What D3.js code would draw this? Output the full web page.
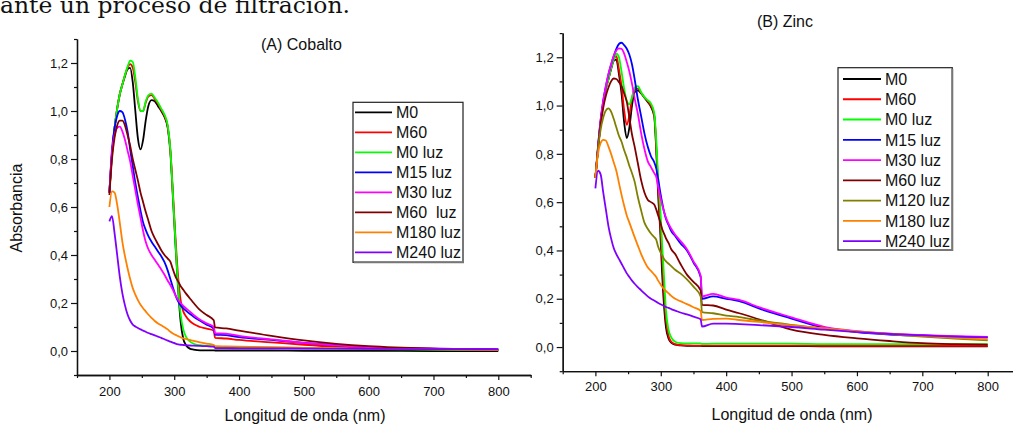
<!DOCTYPE html>
<html>
<head>
<meta charset="utf-8">
<script src="https://cdn.jsdelivr.net/npm/d3@7"></script>
<style>
  html, body { margin: 0; padding: 0; background: #fff; }
  svg { display: block; font-family: "Liberation Sans", Arial, sans-serif; }
  .legend text { white-space: pre; }
</style>
</head>
<body>
<svg id="chart" width="1013" height="426"></svg>
<script>
// ---- Panel A: cobalt samples (absorbance vs wavelength, nm) ----
const wlA = [200,204,208,212,216,220,224,228,232,236,240,244,248,252,256,260,265,270,275,280,285,290,294,298,302,306,310,314,318,324,330,340,350,361,363,380,400,450,500,550,600,700,800];

const coM0     = [0.66,0.82,0.93,1.01,1.07,1.11,1.145,1.175,1.18,1.12,1.0,0.885,0.84,0.88,0.96,1.02,1.045,1.04,1.02,1.0,0.975,0.93,0.83,0.64,0.44,0.26,0.12,0.05,0.025,0.01,0.006,0.003,0.003,0.003,0.002,0.002,0.002,0.002,0.001,0.001,0.001,0.0,0.0];
const coM60    = [0.66,0.82,0.93,1.01,1.07,1.11,1.15,1.18,1.195,1.18,1.12,1.04,1.0,1.0,1.035,1.06,1.066,1.05,1.03,1.005,0.98,0.935,0.84,0.66,0.47,0.31,0.21,0.165,0.145,0.125,0.112,0.1,0.093,0.085,0.055,0.052,0.046,0.036,0.026,0.018,0.013,0.008,0.005];
const coM0luz  = [0.66,0.82,0.93,1.01,1.07,1.11,1.15,1.185,1.21,1.205,1.14,1.05,1.0,1.0,1.04,1.065,1.072,1.055,1.035,1.01,0.985,0.94,0.84,0.65,0.45,0.27,0.15,0.09,0.06,0.04,0.03,0.024,0.022,0.02,0.016,0.016,0.015,0.014,0.012,0.01,0.008,0.006,0.004];
const coM15luz = [0.66,0.84,0.93,0.98,1.0,0.995,0.965,0.915,0.84,0.77,0.70,0.64,0.585,0.535,0.505,0.48,0.455,0.435,0.415,0.395,0.37,0.335,0.3,0.265,0.232,0.207,0.19,0.178,0.168,0.155,0.143,0.126,0.11,0.093,0.068,0.066,0.058,0.046,0.034,0.024,0.016,0.01,0.006];
const coM30luz = [0.66,0.83,0.9,0.93,0.935,0.915,0.88,0.835,0.79,0.73,0.67,0.61,0.555,0.5,0.455,0.425,0.4,0.38,0.36,0.34,0.318,0.293,0.275,0.255,0.232,0.214,0.2,0.188,0.178,0.165,0.15,0.13,0.115,0.1,0.074,0.072,0.063,0.048,0.034,0.024,0.016,0.01,0.006];
const coM60luz = [0.65,0.8,0.89,0.94,0.96,0.96,0.94,0.9,0.855,0.8,0.755,0.71,0.66,0.62,0.58,0.545,0.5,0.47,0.445,0.42,0.4,0.385,0.372,0.34,0.31,0.29,0.27,0.255,0.24,0.22,0.2,0.17,0.15,0.128,0.098,0.094,0.085,0.063,0.044,0.03,0.02,0.01,0.006];
const coM180luz= [0.60,0.665,0.66,0.61,0.535,0.455,0.395,0.345,0.3,0.262,0.235,0.212,0.193,0.178,0.165,0.152,0.138,0.125,0.115,0.107,0.099,0.09,0.08,0.073,0.067,0.062,0.057,0.053,0.05,0.046,0.042,0.036,0.031,0.025,0.02,0.019,0.018,0.016,0.013,0.011,0.009,0.007,0.005];
const coM240luz= [0.54,0.562,0.49,0.4,0.31,0.24,0.19,0.152,0.127,0.11,0.102,0.096,0.09,0.085,0.08,0.075,0.07,0.065,0.06,0.055,0.049,0.043,0.039,0.035,0.031,0.028,0.026,0.025,0.024,0.023,0.022,0.021,0.02,0.018,0.012,0.012,0.011,0.011,0.01,0.01,0.009,0.008,0.008];

const namesA  = ["M0", "M60", "M0 luz", "M15 luz", "M30 luz", "M60  luz", "M180 luz", "M240 luz"];
const colorsA = ["#000000", "#ff0000", "#00ff00", "#0000ff", "#ff00ff", "#800000", "#ff8000", "#8000ff"];
const valuesA = [coM0, coM60, coM0luz, coM15luz, coM30luz, coM60luz, coM180luz, coM240luz];

// ---- Panel B: zinc samples ----
const wlB = [200,204,208,212,216,220,224,228,232,236,240,244,248,252,256,260,265,270,275,280,285,290,293,296,299,302,305,308,312,316,322,330,340,350,361,363,380,400,420,450,500,550,600,650,700,750,800];

const znM0     = [0.70,0.82,0.93,1.01,1.07,1.11,1.15,1.185,1.19,1.13,1.05,0.93,0.865,0.91,1.0,1.055,1.063,1.05,1.033,1.015,0.995,0.955,0.82,0.63,0.49,0.31,0.17,0.08,0.035,0.018,0.01,0.007,0.005,0.005,0.005,0.004,0.004,0.004,0.004,0.004,0.004,0.003,0.003,0.003,0.003,0.003,0.003];
const znM60    = [0.70,0.82,0.93,1.01,1.07,1.11,1.155,1.19,1.205,1.15,1.08,0.98,0.92,0.96,1.03,1.065,1.07,1.052,1.034,1.018,1.0,0.96,0.84,0.66,0.52,0.37,0.22,0.11,0.045,0.022,0.012,0.008,0.007,0.006,0.006,0.006,0.006,0.006,0.006,0.006,0.006,0.005,0.005,0.005,0.005,0.005,0.005];
const znM0luz  = [0.70,0.82,0.93,1.01,1.07,1.11,1.155,1.19,1.215,1.2,1.14,1.07,1.02,1.005,1.035,1.075,1.08,1.055,1.035,1.022,1.008,0.97,0.86,0.70,0.59,0.43,0.29,0.15,0.07,0.04,0.022,0.016,0.015,0.015,0.015,0.013,0.014,0.014,0.014,0.014,0.014,0.012,0.012,0.012,0.012,0.012,0.012];
const znM15luz = [0.70,0.83,0.94,1.02,1.08,1.13,1.17,1.205,1.235,1.255,1.26,1.25,1.235,1.21,1.17,1.11,1.025,0.955,0.885,0.83,0.79,0.765,0.74,0.695,0.645,0.6,0.56,0.53,0.505,0.48,0.46,0.43,0.4,0.35,0.29,0.2,0.21,0.2,0.19,0.16,0.118,0.08,0.062,0.052,0.047,0.043,0.04];
const znM30luz = [0.70,0.83,0.94,1.02,1.08,1.13,1.17,1.205,1.228,1.237,1.235,1.215,1.18,1.14,1.09,1.03,0.965,0.885,0.82,0.77,0.745,0.72,0.705,0.665,0.625,0.59,0.56,0.535,0.51,0.49,0.465,0.44,0.405,0.355,0.295,0.21,0.22,0.205,0.195,0.165,0.123,0.084,0.066,0.055,0.05,0.045,0.042];
const znM60luz = [0.70,0.82,0.92,0.99,1.04,1.075,1.1,1.112,1.11,1.097,1.08,1.05,1.015,0.95,0.88,0.83,0.76,0.69,0.64,0.61,0.6,0.59,0.57,0.545,0.52,0.49,0.47,0.45,0.43,0.405,0.385,0.345,0.3,0.27,0.235,0.175,0.172,0.155,0.14,0.115,0.072,0.05,0.036,0.025,0.016,0.012,0.01];
const znM120luz= [0.70,0.82,0.9,0.95,0.98,0.988,0.975,0.945,0.91,0.875,0.85,0.815,0.785,0.75,0.72,0.685,0.62,0.565,0.515,0.49,0.47,0.455,0.445,0.415,0.395,0.38,0.365,0.355,0.345,0.335,0.32,0.305,0.28,0.25,0.21,0.145,0.14,0.13,0.124,0.11,0.092,0.077,0.064,0.053,0.043,0.035,0.028];
const znM180luz= [0.70,0.8,0.845,0.858,0.855,0.83,0.8,0.765,0.73,0.68,0.63,0.585,0.545,0.515,0.485,0.455,0.42,0.385,0.355,0.33,0.315,0.3,0.29,0.275,0.262,0.25,0.24,0.232,0.222,0.212,0.2,0.19,0.178,0.165,0.15,0.112,0.117,0.118,0.112,0.104,0.09,0.077,0.065,0.055,0.046,0.038,0.032];
const znM240luz= [0.657,0.73,0.715,0.64,0.57,0.5,0.45,0.41,0.385,0.365,0.345,0.325,0.305,0.29,0.275,0.262,0.248,0.235,0.222,0.21,0.2,0.193,0.188,0.182,0.178,0.174,0.17,0.166,0.162,0.157,0.151,0.143,0.135,0.126,0.115,0.085,0.097,0.097,0.095,0.091,0.083,0.072,0.062,0.054,0.048,0.043,0.04];

const namesB  = ["M0", "M60", "M0 luz", "M15 luz", "M30 luz", "M60 luz", "M120 luz", "M180 luz", "M240 luz"];
const colorsB = ["#000000", "#ff0000", "#00ff00", "#0000ff", "#ff00ff", "#800000", "#808000", "#ff8000", "#8000ff"];
const valuesB = [znM0, znM60, znM0luz, znM15luz, znM30luz, znM60luz, znM120luz, znM180luz, znM240luz];

// shared axis ticks
const xMajor = [200, 300, 400, 500, 600, 700, 800];
const xMinor = [150, 250, 350, 450, 550, 650, 750, 850];
const yMajor = [0.0, 0.2, 0.4, 0.6, 0.8, 1.0, 1.2];
const yMinor = [-0.1, 0.1, 0.3, 0.5, 0.7, 0.9, 1.1, 1.3];

const svg = d3.select("#chart");
const esFmt = d3.formatLocale({decimal: ",", thousands: ".", grouping: [3], currency: ["", ""]}).format(".1f");

// caption fragment from the page above the figure
svg.append("text")
  .attr("x", 0).attr("y", 13)
  .attr("font-family", "'DejaVu Serif', 'Liberation Serif', serif")
  .attr("font-size", 22)
  .attr("textLength", 350).attr("lengthAdjust", "spacingAndGlyphs")
  .attr("fill", "#111")
  .text("ante un proceso de filtración.");

function drawPanel(cfg) {
  const g = svg.append("g");
  const x = d3.scaleLinear().domain([150, 850]).range(cfg.xRange);
  const y = d3.scaleLinear().domain([-0.1, 1.3]).range(cfg.yRange);
  const y0 = cfg.yRange[0];
  const x0 = cfg.xRange[0];

  // curves
  const line = d3.line()
    .x(d => x(d[0]))
    .y(d => y(d[1]))
    .curve(d3.curveMonotoneX);

  cfg.values.forEach((vals, i) => {
    g.append("path")
      .datum(cfg.wl.map((w, k) => [w, vals[k]]))
      .attr("fill", "none")
      .attr("stroke", cfg.colors[i])
      .attr("stroke-width", 1.8)
      .attr("stroke-linejoin", "round")
      .attr("d", line);
  });

  // x axis
  const gx = g.append("g").attr("transform", `translate(0,${y0})`);
  gx.call(d3.axisBottom(x).tickValues(xMajor).tickSize(5).tickSizeOuter(0).tickPadding(cfg.xPad).tickFormat(d3.format("d")));
  gx.append("g").call(d3.axisBottom(x).tickValues(xMinor).tickSize(3).tickSizeOuter(0).tickFormat(""));
  // y axis
  const gy = g.append("g").attr("transform", `translate(${x0},0)`);
  gy.call(d3.axisLeft(y).tickValues(yMajor).tickSize(6).tickSizeOuter(0).tickPadding(cfg.yPad).tickFormat(esFmt));
  gy.append("g").call(d3.axisLeft(y).tickValues(yMinor).tickSize(3).tickSizeOuter(0).tickFormat(""));

  g.selectAll(".domain").attr("stroke", "#111").attr("stroke-width", 1.3);
  g.selectAll(".tick line").attr("stroke", "#111").attr("stroke-width", 1.2);
  g.selectAll(".tick text").attr("font-size", 13).attr("fill", "#111")
    .attr("font-family", "'Liberation Sans', Arial, sans-serif");

  // axis title
  g.append("text")
    .attr("x", cfg.xLabelX).attr("y", cfg.xLabelY)
    .attr("text-anchor", "middle").attr("font-size", 16).attr("fill", "#111")
    .text("Longitud de onda (nm)");

  // panel title
  g.append("text")
    .attr("x", cfg.titleX).attr("y", cfg.titleY)
    .attr("font-size", 16).attr("fill", "#111")
    .text(cfg.title);

  // legend
  const lg = g.append("g").attr("class", "legend");
  lg.append("rect")
    .attr("x", cfg.legend.x).attr("y", cfg.legend.y)
    .attr("width", cfg.legend.w).attr("height", cfg.legend.h)
    .attr("fill", "#fff").attr("stroke", "#222").attr("stroke-width", 1.2);
  lg.append("path")
    .attr("d", `M${cfg.legend.x + cfg.legend.w},${cfg.legend.y + 1}V${cfg.legend.y + cfg.legend.h}H${cfg.legend.x + 1}`)
    .attr("fill", "none").attr("stroke", "#777").attr("stroke-width", 2);
  cfg.names.forEach((name, i) => {
    const cy = cfg.legend.y + cfg.legend.first + i * cfg.legend.step;
    lg.append("line")
      .attr("x1", cfg.legend.lx1).attr("x2", cfg.legend.lx2)
      .attr("y1", cy).attr("y2", cy)
      .attr("stroke", cfg.colors[i]).attr("stroke-width", 1.8);
    lg.append("text")
      .attr("x", cfg.legend.tx).attr("y", cy).attr("dy", "0.36em")
      .attr("font-size", 16).attr("fill", "#111")
      .text(name);
  });
  return g;
}

drawPanel({
  wl: wlA, values: valuesA, names: namesA, colors: colorsA,
  xRange: [77, 530.7], yRange: [375, 39],
  xPad: 7, yPad: 3,
  xLabelX: 305, xLabelY: 421,
  title: "(A) Cobalto", titleX: 261, titleY: 50,
  legend: {x: 353, y: 102.3, w: 110, h: 160, first: 10, step: 20, lx1: 355, lx2: 392, tx: 396}
});

// y title only on panel A
svg.append("text")
  .attr("transform", "translate(22,208) rotate(-90)")
  .attr("text-anchor", "middle").attr("font-size", 16).attr("fill", "#111")
  .text("Absorbancia");

drawPanel({
  wl: wlB, values: valuesB, names: namesB, colors: colorsB,
  xRange: [562.7, 1020.4], yRange: [371.2, 33.1],
  xPad: 6, yPad: 3,
  xLabelX: 792, xLabelY: 420,
  title: "(B) Zinc", titleX: 757, titleY: 27,
  legend: {x: 838, y: 67.7, w: 114.3, h: 182.3, first: 11.3, step: 20.26, lx1: 843, lx2: 881, tx: 885}
});
</script>
</body>
</html>
